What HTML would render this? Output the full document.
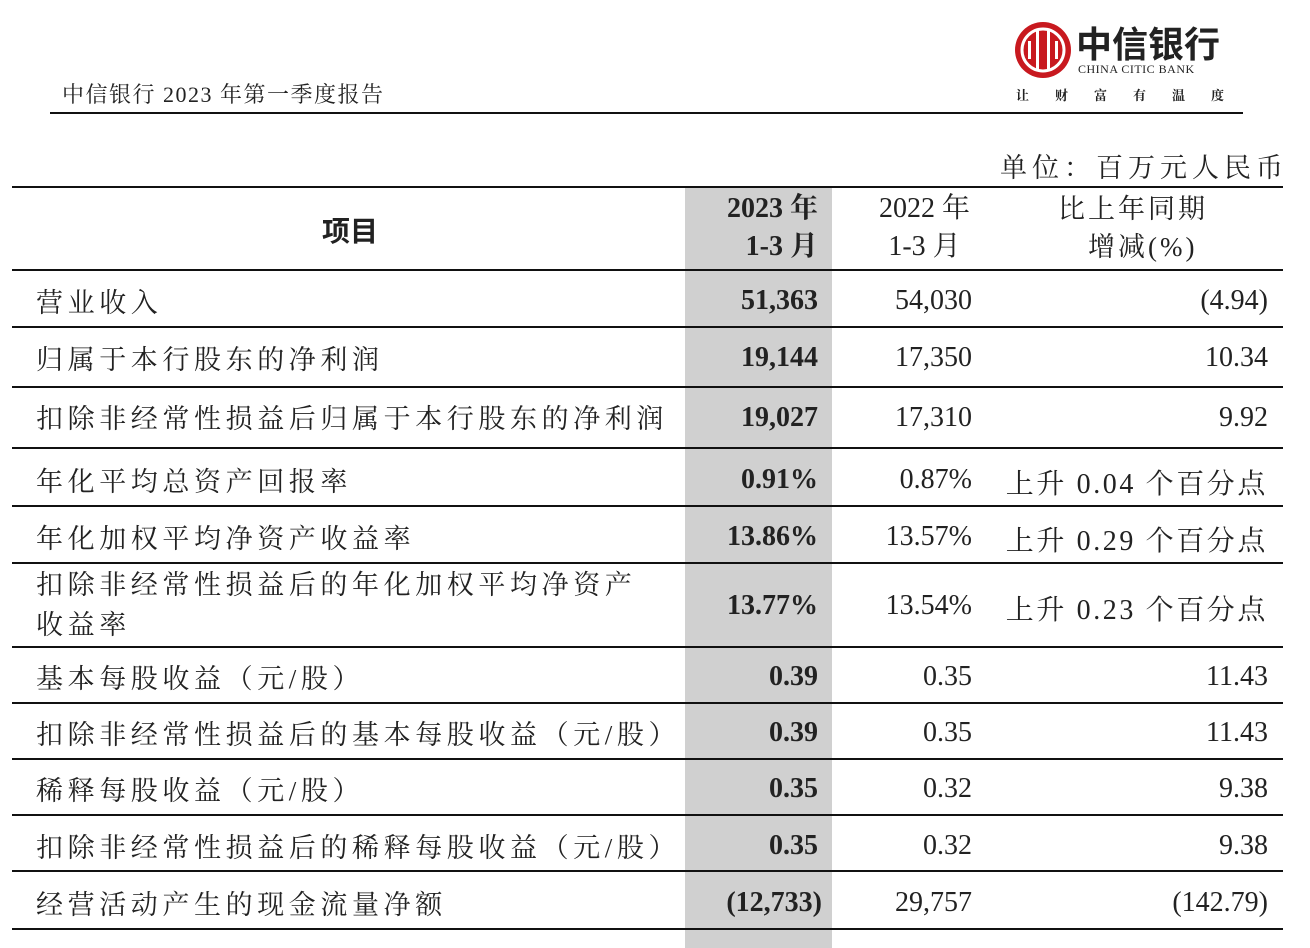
<!DOCTYPE html>
<html><head><meta charset="utf-8"><style>
body{margin:0;width:1310px;height:948px;background:#fff;position:relative;overflow:hidden;font-family:"Liberation Serif","Noto Serif CJK SC",serif;color:#222}
.a{position:absolute;white-space:nowrap}
.hl{position:absolute;left:12px;width:1271px;height:2px;background:#111}
.t{font-size:27px;left:36px;letter-spacing:4.6px}
.c2{font-size:28px;font-weight:bold;right:492px;text-align:right}
.c3{font-size:28px;right:338px;text-align:right}
.c4{font-size:28px;right:42px;text-align:right}
.n{margin-top:3px}
</style></head><body>
<div class="a" style="left:62px;top:78px;font-size:22px;letter-spacing:1.5px">中信银行 2023 年第一季度报告</div>
<div class="a" style="left:50px;top:112px;width:1193px;height:2px;background:#111"></div>
<svg class="a" style="left:1014px;top:21px" width="58" height="58" viewBox="0 0 58 58"><circle cx="29" cy="29" r="28" fill="#c8191f"/><circle cx="29" cy="29" r="21" fill="none" stroke="#fff" stroke-width="3"/><rect x="22" y="10" width="3" height="38" fill="#fff"/><rect x="33" y="10" width="3" height="38" fill="#fff"/><rect x="14" y="20" width="3" height="18" fill="#fff"/><rect x="41" y="20" width="3" height="18" fill="#fff"/></svg>
<div class="a" style="left:1076px;top:20px;font-size:36px;font-weight:bold;font-family:'Noto Sans CJK SC',sans-serif;line-height:44px">中信银行</div>
<div class="a" style="left:1078px;top:62px;font-size:12px;letter-spacing:0.5px">CHINA CITIC BANK</div>
<div class="a" style="left:1016px;top:85px;font-size:13px;letter-spacing:26px;font-weight:bold">让财富有温度</div>
<div class="a" style="left:1000px;top:146px;font-size:27px;letter-spacing:5px">单位：百万元人民币</div>
<div class="a" style="left:685px;top:187px;width:147px;height:761px;background:#d0d0d0"></div>
<div class="hl" style="top:186px"></div>
<div class="hl" style="top:269px"></div>
<div class="hl" style="top:326px"></div>
<div class="hl" style="top:386px"></div>
<div class="hl" style="top:447px"></div>
<div class="hl" style="top:505px"></div>
<div class="hl" style="top:562px"></div>
<div class="hl" style="top:646px"></div>
<div class="hl" style="top:702px"></div>
<div class="hl" style="top:758px"></div>
<div class="hl" style="top:814px"></div>
<div class="hl" style="top:870px"></div>
<div class="hl" style="top:928px"></div>
<div class="a" style="left:322px;top:210px;font-size:28px;font-weight:bold;font-family:'Noto Sans CJK SC',sans-serif">项目</div>
<div class="a c2" style="top:190px;line-height:38px">2023 年<br>1-3 月</div>
<div class="a c3" style="top:190px;line-height:38px;text-align:center;right:340px">2022 年<br>1-3 月</div>
<div class="a" style="left:1058px;top:190px;line-height:38px;font-size:27px;text-align:center;letter-spacing:3px">比上年同期<br>&nbsp;&nbsp;增减(%)</div>

<div class="a t" style="top:281px">营业收入</div><div class="a c2 n" style="top:282px">51,363</div><div class="a c3 n" style="top:282px">54,030</div><div class="a c4 n" style="top:282px">(4.94)</div>
<div class="a t" style="top:338px">归属于本行股东的净利润</div><div class="a c2 n" style="top:339px">19,144</div><div class="a c3 n" style="top:339px">17,350</div><div class="a c4 n" style="top:339px">10.34</div>
<div class="a t" style="top:397px">扣除非经常性损益后归属于本行股东的净利润</div><div class="a c2 n" style="top:399px">19,027</div><div class="a c3 n" style="top:399px">17,310</div><div class="a c4 n" style="top:399px">9.92</div>
<div class="a t" style="top:460px">年化平均总资产回报率</div><div class="a c2 n" style="top:461px">0.91%</div><div class="a c3 n" style="top:461px">0.87%</div><div class="a c4 n" style="top:459px;letter-spacing:2.6px">上升 0.04 个百分点</div>
<div class="a t" style="top:517px">年化加权平均净资产收益率</div><div class="a c2 n" style="top:518px">13.86%</div><div class="a c3 n" style="top:518px">13.57%</div><div class="a c4 n" style="top:516px;letter-spacing:2.6px">上升 0.29 个百分点</div>
<div class="a t" style="top:565px;line-height:40px">扣除非经常性损益后的年化加权平均净资产<br>收益率</div><div class="a c2 n" style="top:587px">13.77%</div><div class="a c3 n" style="top:587px">13.54%</div><div class="a c4 n" style="top:585px;letter-spacing:2.6px">上升 0.23 个百分点</div>
<div class="a t" style="top:657px">基本每股收益（元/股）</div><div class="a c2 n" style="top:658px">0.39</div><div class="a c3 n" style="top:658px">0.35</div><div class="a c4 n" style="top:658px">11.43</div>
<div class="a t" style="top:713px">扣除非经常性损益后的基本每股收益（元/股）</div><div class="a c2 n" style="top:714px">0.39</div><div class="a c3 n" style="top:714px">0.35</div><div class="a c4 n" style="top:714px">11.43</div>
<div class="a t" style="top:769px">稀释每股收益（元/股）</div><div class="a c2 n" style="top:770px">0.35</div><div class="a c3 n" style="top:770px">0.32</div><div class="a c4 n" style="top:770px">9.38</div>
<div class="a t" style="top:826px">扣除非经常性损益后的稀释每股收益（元/股）</div><div class="a c2 n" style="top:827px">0.35</div><div class="a c3 n" style="top:827px">0.32</div><div class="a c4 n" style="top:827px">9.38</div>
<div class="a t" style="top:883px">经营活动产生的现金流量净额</div><div class="a c2 n" style="top:884px;right:488px">(12,733)</div><div class="a c3 n" style="top:884px">29,757</div><div class="a c4 n" style="top:884px">(142.79)</div>
</body></html>
